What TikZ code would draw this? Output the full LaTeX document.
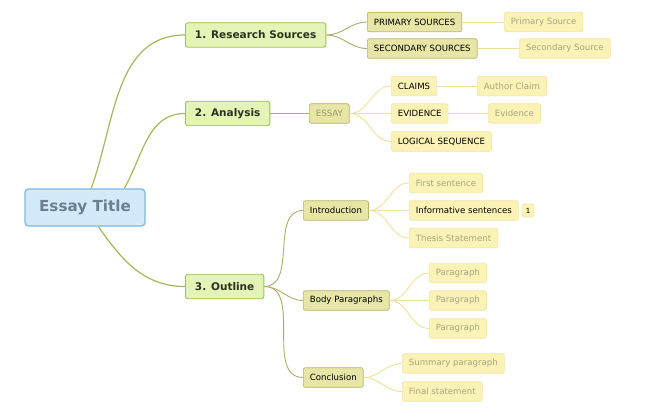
\documentclass[tikz,border=0pt]{standalone}
\usepackage{fontspec}
\setmainfont{DejaVu Sans}
\usetikzlibrary{arrows,shapes,calc,positioning}
\definecolor{rootfill}{HTML}{D3EAFB}
\definecolor{rootline}{HTML}{7DBAE4}
\definecolor{roottext}{HTML}{6B7F91}
\definecolor{mainfill}{HTML}{E4F3B6}
\definecolor{mainline}{HTML}{A0BF58}
\definecolor{maintext}{HTML}{2B3320}
\definecolor{olivefill}{HTML}{E7E6A6}
\definecolor{oliveline}{HTML}{B6B467}
\definecolor{olivetext}{HTML}{9C9A68}
\definecolor{palefill}{HTML}{FBF3B5}
\definecolor{paleline}{HTML}{F2E7A6}
\definecolor{leaftext}{HTML}{A8A383}
\definecolor{branchmain}{HTML}{A3B85A}
\definecolor{brancholive}{HTML}{ADAC68}
\definecolor{branchpale}{HTML}{EEE19A}

\begin{document}
\begin{tikzpicture}[x=1pt,y=-1pt,
		root/.style={draw=rootline, fill=rootfill, text=roottext, line width=1.3pt, rounded corners=3.5pt, minimum width=120pt, minimum height=37pt, inner sep=0pt, font=\fontsize{15.2}{18}\selectfont\bfseries},
		maintopic/.style={anchor=west, draw=mainline, fill=mainfill, text=maintext, line width=0.9pt, rounded corners=2.5pt, minimum height=24.5pt, inner xsep=9.5pt, inner ysep=0pt, font=\fontsize{10.5}{12}\selectfont\bfseries},
		subtopic/.style={anchor=west, draw=oliveline, fill=olivefill, text=black, line width=0.7pt, rounded corners=2pt, minimum height=19.5pt, inner xsep=6.5pt, inner ysep=0pt, font=\fontsize{8.6}{10}\selectfont},
		paletopic/.style={subtopic, draw=paleline, fill=palefill},
		leaf/.style={paletopic, text=leaftext},
		mainbranch/.style={draw=branchmain, line width=1.2pt},
		olivebranch/.style={draw=brancholive, line width=0.9pt},
		palebranch/.style={draw=branchpale, line width=0.9pt}]
		\useasboundingbox (0,0) rectangle (650,414);
		\node [root] (title) at (85,207.5) {Essay Title};
		\node [maintopic] (research) at (185,35) {1. Research Sources};
		\node [maintopic] (analysis) at (185,113.5) {2. Analysis};
		\node [maintopic] (outline) at (185,286.5) {3. Outline};
		\node [subtopic] (primary) at (367,22) {PRIMARY SOURCES};
		\node [subtopic] (secondary) at (367,48.5) {SECONDARY SOURCES};
		\node [leaf] (primleaf) at (504,22) {Primary Source};
		\node [leaf] (secleaf) at (519,48.5) {Secondary Source};
		\node [subtopic, text=olivetext] (essay) at (309,113.5) {ESSAY};
		\node [paletopic] (claims) at (391,86) {CLAIMS};
		\node [paletopic] (evidence) at (391,113.5) {EVIDENCE};
		\node [paletopic] (logical) at (391,141.5) {LOGICAL SEQUENCE};
		\node [leaf] (author) at (477,86) {Author Claim};
		\node [leaf] (evileaf) at (488,113.5) {Evidence};
		\node [subtopic] (intro) at (303,210.5) {Introduction};
		\node [subtopic] (body) at (303,300.5) {Body Paragraphs};
		\node [subtopic] (concl) at (303,377.5) {Conclusion};
		\node [leaf] (first) at (409,183) {First sentence};
		\node [paletopic] (inform) at (409,210.5) {Informative sentences};
		\node [paletopic, inner xsep=3.5pt, minimum height=13pt, font=\fontsize{7}{8}\selectfont] (badge) at (522,210.5) {1};
		\node [leaf] (thesis) at (409,238) {Thesis Statement};
		\node [leaf] (paraA) at (429,273) {Paragraph};
		\node [leaf] (paraB) at (429,300.5) {Paragraph};
		\node [leaf] (paraC) at (429,328.5) {Paragraph};
		\node [leaf] (summary) at (402,363.5) {Summary paragraph};
		\node [leaf] (final) at (402,391.5) {Final statement};
		\draw [mainbranch] (title.72) to[out=70, in=180] (research.west);
		\draw [mainbranch] (title.26) to[out=60, in=180] (analysis.west);
		\draw [mainbranch] (title.-55) to[out=-55, in=180] (outline.west);
		\draw [olivebranch] (research.east) to[out=0, in=180] (primary.west);
		\draw [olivebranch] (research.east) to[out=0, in=180] (secondary.west);
		\draw [palebranch] (primary.east) -- (primleaf.west);
		\draw [palebranch] (secondary.east) -- (secleaf.west);
		\draw [olivebranch] (analysis.east) -- (essay.west);
		\draw [palebranch] (essay.east) to[out=0, in=180] (claims.west);
		\draw [palebranch] (essay.east) -- (evidence.west);
		\draw [palebranch] (essay.east) to[out=0, in=180] (logical.west);
		\draw [palebranch] (claims.east) -- (author.west);
		\draw [palebranch] (evidence.east) -- (evileaf.west);
		\draw [olivebranch] (outline.east) to[out=0, in=180] (intro.west);
		\draw [olivebranch] (outline.east) to[out=0, in=180] (body.west);
		\draw [olivebranch] (outline.east) to[out=0, in=180] (concl.west);
		\draw [palebranch] (intro.east) to[out=0, in=180] (first.west);
		\draw [palebranch] (intro.east) -- (inform.west);
		\draw [palebranch] (intro.east) to[out=0, in=180] (thesis.west);
		\draw [palebranch] (body.east) to[out=0, in=180] (paraA.west);
		\draw [palebranch] (body.east) -- (paraB.west);
		\draw [palebranch] (body.east) to[out=0, in=180] (paraC.west);
		\draw [palebranch] (concl.east) to[out=0, in=180] (summary.west);
		\draw [palebranch] (concl.east) to[out=0, in=180] (final.west);
	\end{tikzpicture}
\end{document}
